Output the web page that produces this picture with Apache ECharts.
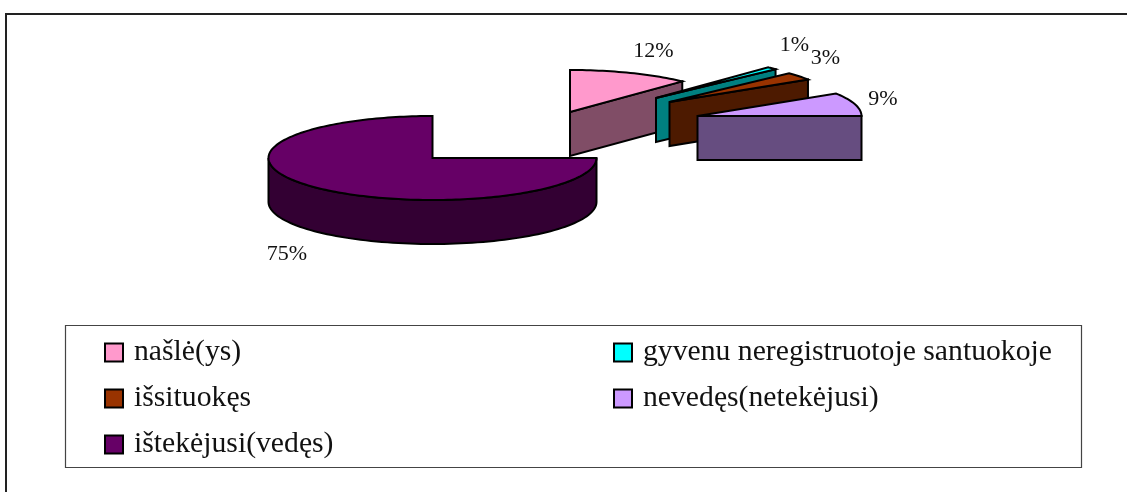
<!DOCTYPE html>
<html>
<head>
<meta charset="utf-8">
<style>html,body{margin:0;padding:0;background:#fff}#c{width:1127px;height:492px}</style>
<script src="https://cdn.jsdelivr.net/npm/echarts@6/dist/echarts.min.js"></script>
</head>
<body>
<div id="c"></div>
<script>
const categories = ['našlė(ys)', 'gyvenu neregistruotoje santuokoje', 'išsituokęs', 'nevedęs(netekėjusi)', 'ištekėjusi(vedęs)'];
const shares = [12, 1, 3, 9, 75];
const topColors = ['#FF99CC', '#00FFFF', '#993300', '#CC99FF', '#660066'];
const wallColors = ['#804D66', '#008080', '#4D1A00', '#664D80', '#330033'];

// Pie shape: ellipse, thickness, centre of the pie and each slice's explosion
const RX = 164, RY = 42, DEPTH = 44;
const CX = 432.5, CY = 158;
const explode = [[137.5, -46], [223.5, -60], [237, -56], [265, -42], [0, 0]];
// Label anchor relative to the exploded slice apex
const labelShift = [[83.5, -61], [138.5, -53], [156, -44], [185.5, -17], [-145.5, 96]];

const total = shares.reduce((a, b) => a + b, 0);
const startOf = i => shares.slice(0, i).reduce((a, b) => a + b, 0) / total * Math.PI * 2;

const chart = echarts.init(document.getElementById('c'), null, { renderer: 'canvas' });

function rim(ax, ay, t) { return [ax + RX * Math.sin(t), ay - RY * Math.cos(t)]; }

function renderSlice(params, api) {
  const i = api.value(0);
  const a0 = startOf(i);
  const a1 = a0 + api.value(1) / total * Math.PI * 2;
  const ax = CX + explode[i][0], ay = CY + explode[i][1];
  const line = { stroke: '#000', lineWidth: 2, lineJoin: 'miter' };
  const children = [];
  const wall = pts => children.push({ type: 'polygon', shape: { points: pts }, style: { fill: wallColors[i], ...line } });
  // radial end face, visible only when it turns towards the viewer
  if (Math.sin(a1) > 1e-6) {
    const p = rim(ax, ay, a1);
    wall([[ax, ay], p, [p[0], p[1] + DEPTH], [ax, ay + DEPTH]]);
  }
  // rim wall between east and west
  const f0 = Math.max(a0, Math.PI / 2), f1 = Math.min(a1, Math.PI * 1.5);
  if (f1 > f0) {
    const up = [], down = [];
    for (let k = 0; k <= 90; k++) {
      const p = rim(ax, ay, f0 + (f1 - f0) * k / 90);
      up.push(p);
      down.unshift([p[0], p[1] + DEPTH]);
    }
    wall(up.concat(down));
  }
  // top
  const pts = [[ax, ay]];
  const n = Math.max(8, Math.round((a1 - a0) * 40));
  for (let k = 0; k <= n; k++) pts.push(rim(ax, ay, a0 + (a1 - a0) * k / n));
  children.push({ type: 'polygon', shape: { points: pts }, style: { fill: topColors[i], ...line } });
  // data label
  children.push({
    type: 'text',
    style: {
      x: ax + labelShift[i][0], y: ay + labelShift[i][1],
      text: api.value(1) + '%', fill: '#111',
      font: '22px "Liberation Serif"', align: 'center', verticalAlign: 'middle'
    }
  });
  return { type: 'group', children };
}

const legendBase = {
  orient: 'vertical', itemWidth: 18, itemHeight: 18, itemGap: 13, selectedMode: false,
  icon: 'rect',
  itemStyle: { borderColor: '#000', borderWidth: 2 },
  textStyle: { fontFamily: 'Liberation Serif', fontSize: 29.7, color: '#111', padding: [3, 0, 0, 6], lineHeight: 30 }
};

chart.setOption({
  animation: false,
  backgroundColor: '#fff',
  legend: [
    { ...legendBase, left: 99, top: 331, data: [categories[0], categories[2], categories[4]] },
    { ...legendBase, left: 608, top: 331, data: [categories[1], categories[3]] }
  ],
  graphic: [
    { type: 'polyline', silent: true, shape: { points: [[6, 492], [6, 14], [1127, 14]] }, style: { fill: null, stroke: '#222', lineWidth: 2 } },
    { type: 'rect', silent: true, shape: { x: 65.5, y: 325.5, width: 1016, height: 142 }, style: { fill: null, stroke: '#444', lineWidth: 1.2 } }
  ],
  series: categories.map((name, i) => ({
    type: 'custom',
    name,
    coordinateSystem: 'none',
    silent: true,
    z: 2 + i,
    itemStyle: { color: topColors[i] },
    data: [[i, shares[i]]],
    renderItem: renderSlice
  }))
});
</script>
</body>
</html>
